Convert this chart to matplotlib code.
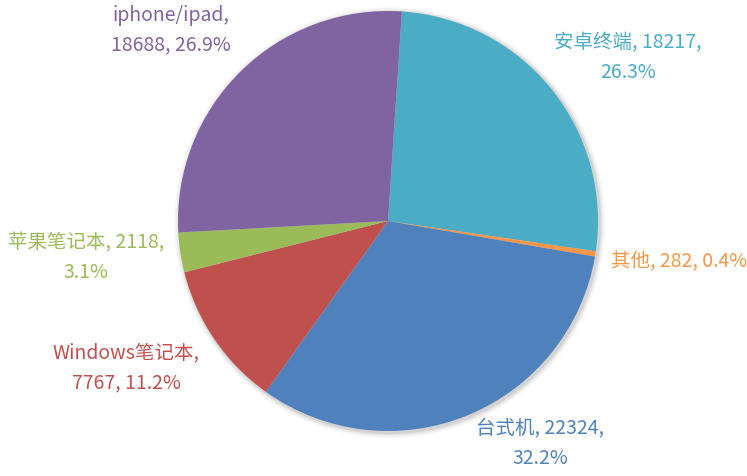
import matplotlib.pyplot as plt
from matplotlib.patches import Circle

plt.rcParams['font.family'] = ['Noto Sans CJK SC', 'DejaVu Sans']

# slices in clockwise order starting near the top
labels = ['安卓终端', '其他', '台式机', 'Windows笔记本', '苹果笔记本', 'iphone/ipad']
values = [18217, 282, 22324, 7767, 2118, 18688]
colors = ['#4BACC6', '#F79646', '#4F81BD', '#C0504D', '#9BBB59', '#8064A2']

# label text, as in the reference (line breaks included)
label_text = ['安卓终端, 18217,\n26.3%', '其他, 282, 0.4%', '台式机, 22324,\n32.2%',
              'Windows笔记本,\n7767, 11.2%', '苹果笔记本, 2118,\n3.1%', 'iphone/ipad,\n18688, 26.9%']
# label centres in pixels (layout only)
label_px = [(628, 58), (679, 262), (540, 444), (126, 368), (86, 258), (171, 30)]

W, H = 747, 477
cx, cy, R = 388, 222, 210

fig = plt.figure(figsize=(W / 100, H / 100), dpi=100)
ax = fig.add_axes([0, 0, 1, 1])

# faint shadow under the pie
for r, a in [(1.025, 0.04), (1.015, 0.06), (1.007, 0.08)]:
    ax.add_patch(Circle((0.008, -0.008), r, color='black', alpha=a, lw=0, zorder=0))

ax.pie(values, colors=colors, startangle=86.2, counterclock=False,
       radius=1, center=(0, 0), wedgeprops=dict(linewidth=0), frame=True)
ax.set_xlim(-cx / R, (W - cx) / R)
ax.set_ylim(-(H - cy) / R, cy / R)
ax.set_aspect('equal')
ax.axis('off')

for txt, (px, py), c in zip(label_text, label_px, colors):
    ax.text((px - cx) / R, (cy - py) / R, txt, color=c, fontsize=14,
            ha='center', va='center', multialignment='center', linespacing=1.55)

fig.savefig('out.png', dpi=100)
